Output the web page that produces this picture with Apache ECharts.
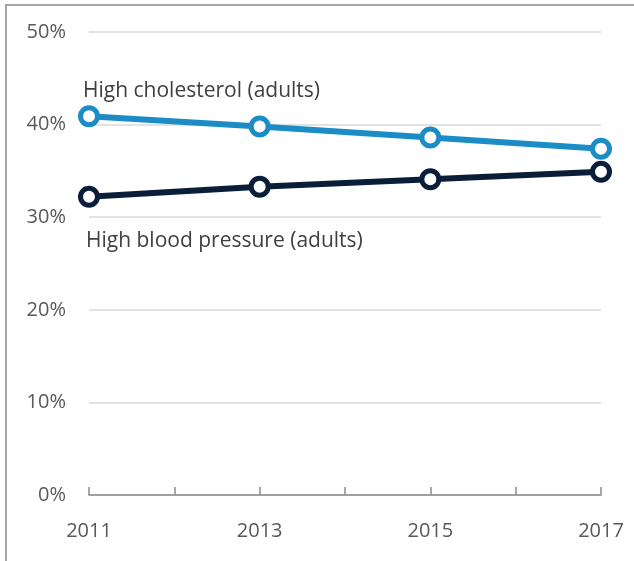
<!DOCTYPE html>
<html>
<head>
<meta charset="utf-8">
<script src="https://cdn.jsdelivr.net/npm/echarts@6/dist/echarts.min.js"></script>
<style>
  html, body { margin: 0; padding: 0; background: #fff; }
  #chart { width: 634px; height: 561px; }
</style>
</head>
<body>
<div id="chart"></div>
<script>
  // data
  const years = [2011, 2013, 2015, 2017];
  const cholesterol = [40.9, 39.8, 38.6, 37.4];
  const bloodPressure = [32.2, 33.3, 34.1, 34.9];
  const seriesNames = ['High cholesterol (adults)', 'High blood pressure (adults)'];

  const font = '"Open Sans", sans-serif';

  // only the first point gets the series name as a label
  function buildData(values, label) {
    return values.map((v, i) => {
      const item = { value: [years[i], v] };
      if (i === 0) item.label = label;
      return item;
    });
  }

  const chart = echarts.init(document.getElementById('chart'));

  chart.setOption({
    animation: false,
    textStyle: { fontFamily: font },
    graphic: [
      {
        type: 'rect',
        shape: { x: 6, y: 5, width: 700, height: 700 },
        style: { fill: 'none', stroke: '#a6a6a6', lineWidth: 2 },
        silent: true
      }
    ],
    grid: { left: 89, right: 33, top: 32, bottom: 66 },
    xAxis: {
      type: 'value',
      min: 2011,
      max: 2017,
      interval: 1,
      splitLine: { show: false },
      axisLine: { lineStyle: { color: '#8c8c8c', width: 1.5 } },
      axisTick: { show: true, inside: true, length: 8, lineStyle: { color: '#8c8c8c', width: 1.5 } },
      axisLabel: {
        margin: 26,
        fontSize: 20,
        color: '#595959',
        fontFamily: font,
        formatter: (v) => (v % 2 === 1 ? String(v) : '')
      }
    },
    yAxis: {
      type: 'value',
      min: 0,
      max: 50,
      interval: 10,
      axisLine: { show: false },
      axisTick: { show: false },
      splitLine: { lineStyle: { color: '#d9d9d9', width: 1.5 } },
      axisLabel: {
        margin: 23,
        fontSize: 20,
        color: '#595959',
        fontFamily: font,
        formatter: '{value}%'
      }
    },
    series: [
      {
        name: seriesNames[0],
        type: 'line',
        z: 3,
        symbol: 'circle',
        symbolSize: 17,
        lineStyle: { color: '#1b8cc6', width: 6 },
        itemStyle: { color: '#ffffff', borderColor: '#1b8cc6', borderWidth: 5 },
        data: buildData(cholesterol, {
          show: true,
          formatter: seriesNames[0],
          position: [5, -14],
          align: 'left',
          verticalAlign: 'middle',
          fontSize: 21,
          color: '#404040',
          fontFamily: font
        })
      },
      {
        name: seriesNames[1],
        type: 'line',
        z: 2,
        symbol: 'circle',
        symbolSize: 17,
        lineStyle: { color: '#0a1e3a', width: 6 },
        itemStyle: { color: '#ffffff', borderColor: '#0a1e3a', borderWidth: 5 },
        data: buildData(bloodPressure, {
          show: true,
          formatter: seriesNames[1],
          position: [8, 55],
          align: 'left',
          verticalAlign: 'middle',
          fontSize: 21,
          color: '#404040',
          fontFamily: font
        })
      }
    ]
  });
</script>
</body>
</html>
